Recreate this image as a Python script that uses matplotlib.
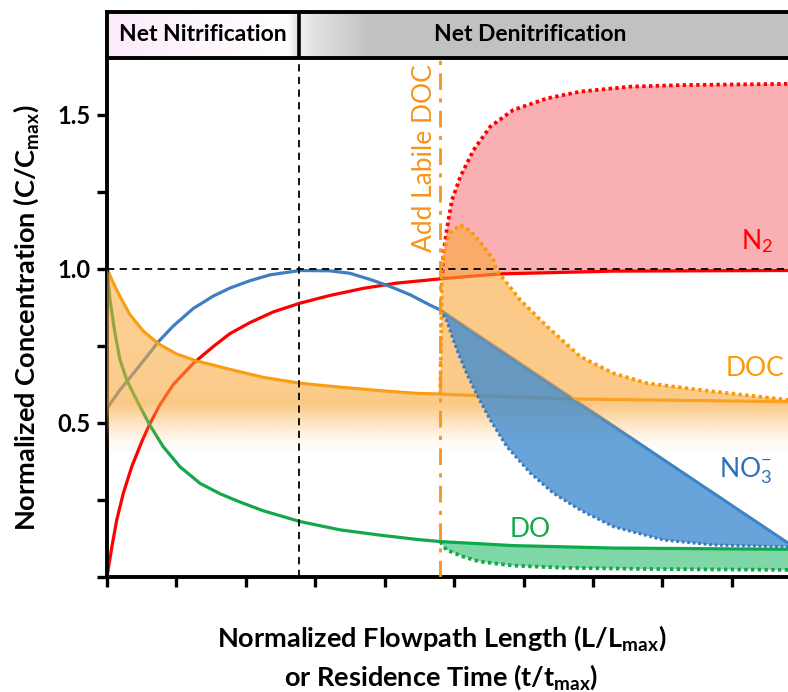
import numpy as np
import matplotlib
matplotlib.use("Agg")
import matplotlib.pyplot as plt
from matplotlib.patches import Polygon

plt.rcParams["font.family"] = ["Lato", "DejaVu Sans"]
plt.rcParams["mathtext.fontset"] = "custom"
plt.rcParams["mathtext.rm"] = "Lato"
plt.rcParams["mathtext.bf"] = "Lato:bold"
plt.rcParams["mathtext.it"] = "Lato:italic"

# x in tick units (0..9 ticks), y in C/Cmax
x_end = 9.81
nitrif_end = 2.77
doc_added = 4.80

no3_x = [0, 0.187, 0.379, 0.572, 0.74, 0.955, 1.244, 1.53, 1.77, 2.06, 2.35, 2.78, 3.21, 3.50,
         3.79, 4.08, 4.37, 4.65, 4.80, 5.50, 6.70, 8.00, 9.81]
no3_y = [0.548, 0.607, 0.661, 0.715, 0.764, 0.815, 0.872, 0.912, 0.938, 0.962, 0.981, 0.995, 0.994, 0.986,
         0.966, 0.943, 0.916, 0.883, 0.867, 0.761, 0.580, 0.383, 0.11]

n2_x = [0, 0.07, 0.14, 0.235, 0.356, 0.50, 0.62, 0.764, 0.955, 1.244, 1.53, 1.77, 2.06, 2.40,
        2.78, 3.21, 3.69, 4.17, 4.80, 5.66, 7.29, 9.81]
n2_y = [0.0, 0.098, 0.185, 0.272, 0.358, 0.439, 0.499, 0.560, 0.625, 0.694, 0.748, 0.790, 0.826, 0.861,
        0.889, 0.914, 0.937, 0.954, 0.968, 0.984, 0.993, 0.995]

doc_x = [0, 0.091, 0.187, 0.331, 0.523, 0.74, 1.0, 1.29, 1.58, 1.77, 2.25, 2.78, 3.36, 3.93,
         4.46, 4.80, 5.09, 6.70, 9.81]
doc_y = [1.0, 0.954, 0.910, 0.851, 0.798, 0.757, 0.724, 0.701, 0.685, 0.674, 0.648, 0.629, 0.616, 0.605,
         0.596, 0.594, 0.591, 0.578, 0.569]

do_x = [0, 0.043, 0.115, 0.187, 0.284, 0.379, 0.476, 0.62, 0.81, 1.05, 1.34, 1.63, 1.92, 2.25,
        2.78, 3.36, 3.93, 4.46, 4.80, 5.85, 7.29, 9.81]
do_y = [1.0, 0.899, 0.791, 0.705, 0.640, 0.596, 0.553, 0.492, 0.423, 0.358, 0.304, 0.270, 0.243, 0.215,
        0.180, 0.153, 0.136, 0.122, 0.115, 0.102, 0.094, 0.090]

# after labile DOC addition (dotted curves)
n2_add_x = [4.80, 4.83, 4.84, 4.90, 4.97, 5.09, 5.28, 5.52, 5.85, 6.34, 6.82, 7.54, 8.26, 9.81]
n2_add_y = [0.968, 0.974, 1.04, 1.136, 1.224, 1.30, 1.386, 1.462, 1.516, 1.554, 1.576, 1.592, 1.597, 1.601]

doc_add_x = [4.80, 4.81, 4.82, 4.82, 4.87, 4.95, 5.09, 5.25, 5.37, 5.57, 5.61, 5.95, 6.34, 6.82, 7.30, 7.78, 8.74, 9.81]
doc_add_y = [0.594, 0.74, 0.87, 1.007, 1.072, 1.12, 1.143, 1.12, 1.089, 1.029, 0.997, 0.90, 0.813, 0.715, 0.661, 0.629, 0.602, 0.575]

no3_add_x = [4.80, 4.89, 5.04, 5.18, 5.33, 5.52, 5.76, 6.10, 6.43, 6.82, 7.30, 8.02, 8.74, 9.81]
no3_add_y = [0.867, 0.834, 0.737, 0.661, 0.591, 0.510, 0.423, 0.337, 0.272, 0.217, 0.163, 0.120, 0.104, 0.098]

do_add_x = [4.80, 4.89, 5.13, 5.37, 5.85, 6.57, 7.78, 9.81]
do_add_y = [0.115, 0.088, 0.066, 0.050, 0.037, 0.030, 0.026, 0.023]

x_ticks = list(range(10))
y_ticks = [0, 0.25, 0.5, 0.75, 1.0, 1.25, 1.5]
y_tick_labels = ["", "", "0.5", "", "1.0", "", "1.5"]

RED = "#ff0000"
BLUE = "#3f7fc0"
ORANGE = "#fb9a06"
GREEN = "#12a84a"
ORANGE_FILL = "#f9a83a"

fig = plt.figure(figsize=(7.88, 6.92), dpi=100)
ax = fig.add_axes([0.1358, 0.1662, 0.8642, 0.75])
ax.set_xlim(0, x_end)
ax.set_ylim(0, 1.685)


def after(xs, ys, x0):
    pts = [(x, y) for x, y in zip(xs, ys) if x >= x0]
    return [p[0] for p in pts], [p[1] for p in pts]


def band(ax, top_x, top_y, bot_x, bot_y, **kw):
    verts = list(zip(top_x, top_y)) + list(zip(bot_x, bot_y))[::-1]
    poly = Polygon(verts, closed=True, linewidth=0, **kw)
    ax.add_patch(poly)
    return poly


# solid baseline curves
lw = 2.3
ax.plot(n2_x, n2_y, color=RED, lw=lw, zorder=2, solid_joinstyle="round")
ax.plot(no3_x, no3_y, color=BLUE, lw=lw, zorder=2, solid_joinstyle="round")
ax.plot(doc_x, doc_y, color=ORANGE, lw=lw, zorder=2, solid_joinstyle="round")
ax.plot(do_x, do_y, color=GREEN, lw=lw, zorder=2, solid_joinstyle="round")

# N2 enrichment
bx, by = after(n2_x, n2_y, doc_added)
band(ax, n2_add_x, n2_add_y, bx, by, facecolor="#fab0b3", zorder=1)

# DOC baseline gradient fill
low = 0.35
grad_y = np.linspace(low, 1.0, 300)
alpha = np.interp(grad_y, [0.40, 0.44, 0.50, 0.56, 0.62, 1.0], [0.0, 0.06, 0.32, 0.62, 0.58, 0.55])
rgba = np.zeros((len(grad_y), 2, 4))
rgba[..., :3] = matplotlib.colors.to_rgb(ORANGE_FILL)
rgba[..., 3] = alpha[:, None]
img = ax.imshow(rgba, extent=(0, x_end, low, 1.0), origin="lower", aspect="auto",
                interpolation="bilinear", zorder=3)
clip = band(ax, doc_x, doc_y, [0, x_end], [low, low], facecolor="none")
img.set_clip_path(clip)

# DOC enrichment
bx, by = after(doc_x, doc_y, doc_added)
band(ax, doc_add_x, doc_add_y, bx, by, facecolor=ORANGE_FILL, alpha=0.6, zorder=3)

# NO3 depletion
bx, by = after(no3_x, no3_y, doc_added)
band(ax, bx, by, no3_add_x, no3_add_y, facecolor="#3d8bd0", alpha=0.78, zorder=4)

# DO depletion
bx, by = after(do_x, do_y, doc_added)
band(ax, bx, by, do_add_x, do_add_y, facecolor="#00b050", alpha=0.5, zorder=4)

# dotted curves
dot = (0, (0.9, 0.9))
ax.plot(n2_add_x, n2_add_y, color=RED, lw=2.7, ls=dot, zorder=6)
ax.plot(doc_add_x, doc_add_y, color=ORANGE, lw=2.7, ls=dot, zorder=6)
ax.plot(no3_add_x, no3_add_y, color="#3a78c0", lw=2.2, ls=dot, zorder=6)
ax.plot(do_add_x, do_add_y, color=GREEN, lw=2.7, ls=dot, zorder=6)

# reference lines
ax.axhline(1.0, color="black", lw=1.3, ls=(0, (4, 3)), zorder=7)
ax.axvline(nitrif_end, color="black", lw=1.3, ls=(0, (4, 3)), zorder=7)
ax.axvline(doc_added, color="#f7941d", lw=2.0, ls=(0, (6, 3, 1.5, 3)), zorder=7)

# curve labels
lab = 19
ax.text(9.36, 1.09, "N$_2$", color=RED, fontsize=lab, ha="center", va="center", zorder=8)
ax.text(9.34, 0.677, "DOC", color=ORANGE, fontsize=lab, ha="center", va="center", zorder=8)
ax.text(9.2, 0.345, "NO$_3^{-}$", color="#2f6fb8", fontsize=lab, ha="center", va="center", zorder=8)
ax.text(6.1, 0.153, "DO", color=GREEN, fontsize=lab, ha="center", va="center", zorder=8)
ax.text(4.58, 1.36, "Add Labile DOC", color="#f7941d", fontsize=lab, rotation=90,
        ha="center", va="center", zorder=8)

# axes styling
for side in ["top", "right"]:
    ax.spines[side].set_visible(False)
for side in ["left", "bottom"]:
    ax.spines[side].set_linewidth(2.8)
ax.set_xticks(x_ticks)
ax.set_xticklabels([])
ax.set_yticks(y_ticks)
ax.set_yticklabels(y_tick_labels, fontsize=17, fontweight="bold")
ax.tick_params(direction="out", length=7, width=2.4, pad=5)

fig.text(0.033, 0.541, r"Normalized Concentration (C/C$_{\mathbf{max}}$)", rotation=90,
         ha="center", va="center", fontsize=19.5, fontweight="bold")
fig.text(0.56, 0.078, r"Normalized Flowpath Length (L/L$_{\mathbf{max}}$)",
         ha="center", va="center", fontsize=19.5, fontweight="bold")
fig.text(0.56, 0.022, r"or Residence Time (t/t$_{\mathbf{max}}$)",
         ha="center", va="center", fontsize=19.5, fontweight="bold")

# header bar
hx = fig.add_axes([0.1358, 0.9162, 0.8642, 0.0665])
hx.set_xlim(0, x_end)
hx.set_ylim(0, 1)
gx = np.linspace(0, x_end, 600)
left_r = np.interp(gx, [0, 2.3, 2.6, nitrif_end], [0.99, 1.0, 1.0, 0.86])
left_g = np.interp(gx, [0, 2.3, 2.6, nitrif_end], [0.92, 0.99, 1.0, 0.86])
left_b = np.interp(gx, [0, 2.3, 2.6, nitrif_end], [0.98, 1.0, 1.0, 0.86])
right_v = np.interp(gx, [nitrif_end, 3.0, 3.8, x_end], [0.95, 0.88, 0.76, 0.76])
band_rgb = np.where(gx[:, None] < nitrif_end,
                    np.stack([left_r, left_g, left_b], axis=1),
                    np.stack([right_v, right_v, right_v], axis=1))
hx.imshow(band_rgb[None, :, :], extent=(0, x_end, 0, 1), aspect="auto", interpolation="bilinear")
hx.axvline(nitrif_end, color="black", lw=2.6)
for side in ["top", "bottom", "left"]:
    hx.spines[side].set_linewidth(2.8)
hx.spines["right"].set_visible(False)
hx.set_xticks([])
hx.set_yticks([])
hx.text(nitrif_end / 2, 0.5, "Net Nitrification", ha="center", va="center", fontsize=16.5, fontweight="bold")
hx.text(6.1, 0.5, "Net Denitrification", ha="center", va="center", fontsize=16.5, fontweight="bold")

fig.savefig("out.png", dpi=100)
